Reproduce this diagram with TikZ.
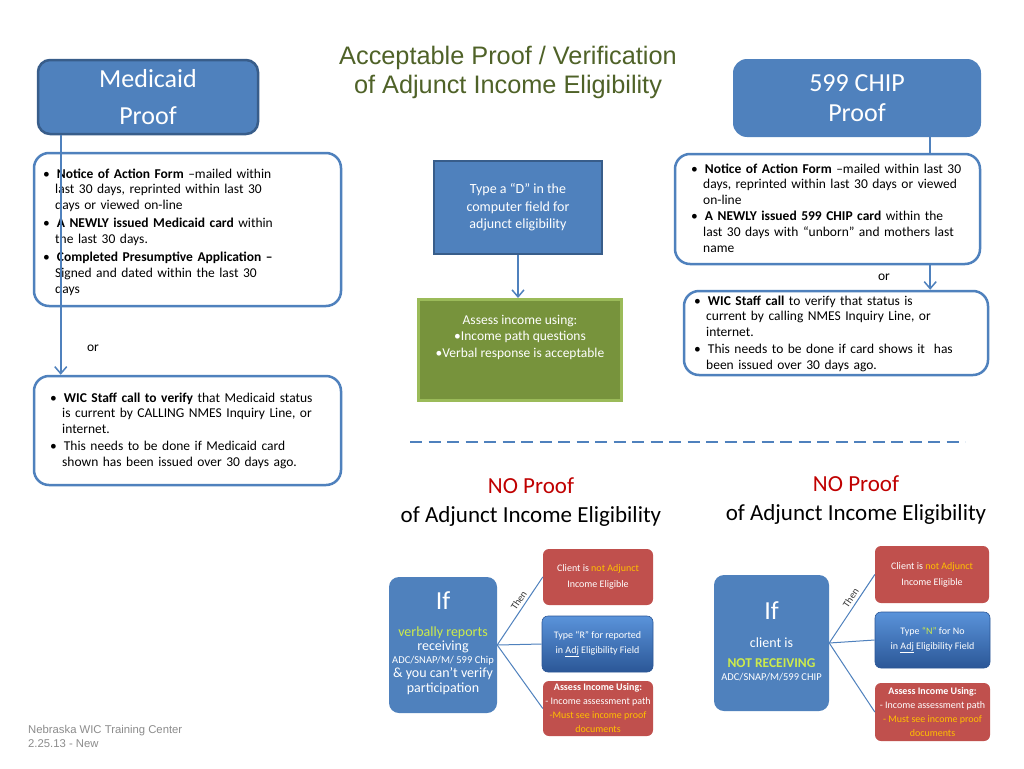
\documentclass[tikz,border=0pt]{standalone}
\usepackage{fontspec}
\setmainfont{Carlito}
\newfontfamily\arialf{Liberation Sans}
\usetikzlibrary{arrows.meta,calc}
\definecolor{ppblue}{HTML}{4F81BD}
\definecolor{ppdark}{HTML}{385D8A}
\definecolor{ppgreen}{HTML}{77933C}
\definecolor{ppgreenb}{HTML}{9BBB59}
\definecolor{ppred}{HTML}{C0504D}
\definecolor{ppyel}{HTML}{FFC000}
\definecolor{pplime}{HTML}{CDEB4B}
\definecolor{titlegreen}{HTML}{4F6228}
\definecolor{nored}{HTML}{C00000}
\definecolor{footgray}{HTML}{8C8C8C}
\definecolor{btop}{HTML}{5A93DA}
\definecolor{bbot}{HTML}{2B5797}
\newenvironment{bltlist}[1]{\begin{list}{\textbullet}{\setlength{\leftmargin}{12pt}\setlength{\labelsep}{7pt}\setlength{\labelwidth}{5pt}\setlength{\itemsep}{#1}\setlength{\parsep}{0pt}\setlength{\topsep}{0pt}\setlength{\partopsep}{0pt}\setlength{\itemindent}{0pt}}}{\end{list}}
\begin{document}
\begin{tikzpicture}[x=1pt,y=-1pt,
  hdr/.style={fill=ppblue, text=white, align=center, font=\fontsize{26}{37}\selectfont},
  boxw/.style={rounded corners=15pt, draw=ppblue, line width=2.5pt, fill=white},
  lst/.style={anchor=north west, text width=#1, inner sep=0pt, align=left, font=\fontsize{13.5}{15.8}\selectfont},
  conn/.style={draw=ppblue, line width=1.5pt},
  arr/.style={-{Straight Barb[length=7pt,width=12pt]}},
  thinln/.style={draw=ppblue, line width=1pt},
  redb/.style={rounded corners=6pt, fill=ppred, text=white, align=center, inner sep=0pt},
  blueb/.style={rounded corners=6pt, top color=btop, bottom color=bbot, draw=bbot, line width=0.6pt, text=white, align=center, inner sep=0pt},
  ifbox/.style={rounded corners=10pt, fill=ppblue, inner sep=0pt},
  iftxt/.style={anchor=base, text=white, inner sep=0pt},
  thenlbl/.style={sloped, above=2pt, pos=0.6, text=black!80, font=\fontsize{10}{10}\selectfont, inner sep=1pt},
  plain/.style={anchor=base, inner sep=0pt}
]
\useasboundingbox (0,0) rectangle (1024,768);
\fill[white] (0,0) rectangle (1024,768);

% Title
\node[plain, font=\arialf\fontsize{25.3}{29}\selectfont, text=titlegreen] (title1) at (508,64) {Acceptable Proof / Verification};
\node[plain, font=\arialf\fontsize{25.3}{29}\selectfont, text=titlegreen] (title2) at (508,93) {of Adjunct Income Eligibility};

% Medicaid side
\node[hdr, rounded corners=12pt, draw=ppdark, line width=2.5pt, minimum width=220pt, minimum height=74pt] (medhead) at (148,97) {Medicaid\\Proof};
\node[boxw, minimum width=307pt, minimum height=153pt] (mlist) at (187.5,229.5) {};
\node[lst=295pt] (mlisttxt) at (43,162) {%
\begin{bltlist}{2.2pt}
\item \strut\textbf{Notice of Action Form} –mailed within\newline last 30 days, reprinted within last 30\newline days or viewed on-line
\item \textbf{A NEWLY issued Medicaid card} within\newline the last 30 days.
\item \textbf{Completed Presumptive Application –}\newline Signed and dated within the last 30\newline days
\end{bltlist}};
\node[boxw, minimum width=307pt, minimum height=109pt] (mwic) at (187.5,430.5) {};
\node[lst=295pt] (mwictxt) at (50,386) {%
\begin{bltlist}{1pt}
\item \strut\textbf{WIC Staff call to verify} that Medicaid status\newline is current by CALLING NMES Inquiry Line, or\newline internet.
\item This needs to be done if Medicaid card\newline shown has been issued over 30 days ago.
\end{bltlist}};
\node[plain, font=\fontsize{13.5}{15.8}\selectfont] (orL) at (93,351) {or};
\draw[conn,arr] ([xshift=24pt]medhead.south west) -- ([xshift=24pt]medhead.south west |- mwic.north);

% 599 CHIP side
\node[hdr, rounded corners=14pt, minimum width=248pt, minimum height=78pt, font=\fontsize{26}{30}\selectfont] (chiphead) at (857,98) {599 CHIP\\Proof};
\node[boxw, minimum width=305pt, minimum height=110pt] (clist) at (827.5,209) {};
\node[lst=288pt] (clisttxt) at (691,157) {%
\begin{bltlist}{0pt}
\item \strut\textbf{Notice of Action Form} –mailed within last 30\newline days, reprinted within last 30 days or viewed\newline on-line
\item \textbf{A NEWLY issued 599 CHIP card} within the\newline last 30 days with “unborn” and mothers last\newline name
\end{bltlist}};
\node[boxw, minimum width=304pt, minimum height=84pt] (cwic) at (836,333) {};
\node[lst=292pt] (cwictxt) at (694,289) {%
\begin{bltlist}{1.5pt}
\item \strut\textbf{WIC Staff call} to verify that status is\newline current by calling NMES Inquiry Line, or\newline internet.
\item This needs to be done if card shows it\ \ has\newline been issued over 30 days ago.
\end{bltlist}};
\node[plain, font=\fontsize{13.5}{15.8}\selectfont] (orR) at (884,280) {or};
\draw[conn] ([xshift=-51pt]chiphead.south east) -- ([xshift=-51pt]chiphead.south east |- clist.north);
\draw[conn,arr] ([xshift=-51pt]chiphead.south east |- clist.south) -- ([xshift=-51pt]chiphead.south east |- cwic.north);

% Middle
\node[fill=ppblue, draw=ppdark, line width=2pt, minimum width=168pt, minimum height=93pt, text=white, align=center, font=\fontsize{14}{17.5}\selectfont] (typed) at (518,207.5) {Type a “D” in the\\computer field for\\adjunct eligibility};
\node[fill=ppgreen, draw=ppgreenb, line width=3pt, minimum width=203pt, minimum height=101pt] (gbox) at (520,350) {};
\node[text=white, align=center, font=\fontsize{13.5}{16.5}\selectfont, inner sep=0pt] (gtext) at (520,337) {Assess income using:\\•Income path questions\\•Verbal response is acceptable};
\draw[conn,arr] (typed.south) -- (typed.south |- gbox.north);

% Dashed separator
\coordinate (dashA) at (410,442);
\coordinate (dashB) at (965,442);
\draw[draw=ppblue, line width=1.5pt, dash pattern=on 12pt off 6.5pt] (dashA) -- (dashB);

% NO Proof headings
\node[plain, font=\fontsize{23}{27}\selectfont, text=nored] (noL1) at (531,493) {NO Proof};
\node[plain, font=\fontsize{23}{27}\selectfont] (noL2) at (531,522) {of Adjunct Income Eligibility};
\node[plain, font=\fontsize{23}{27}\selectfont, text=nored] (noR1) at (856,491) {NO Proof};
\node[plain, font=\fontsize{23}{27}\selectfont] (noR2) at (856,520) {of Adjunct Income Eligibility};

% Bottom left
\node[ifbox, minimum width=108pt, minimum height=136pt] (ifL) at (443,645) {};
\node[iftxt, font=\fontsize{26}{26}\selectfont] (ifLa) at (443,609) {If};
\node[iftxt, font=\fontsize{14}{14}\selectfont, text=pplime] (ifLb) at (443,636) {verbally reports};
\node[iftxt, font=\fontsize{14}{14}\selectfont] (ifLc) at (443,650) {receiving};
\node[iftxt, font=\fontsize{10.5}{10.5}\selectfont] (ifLd) at (443,663) {ADC/SNAP/M/ 599 Chip};
\node[iftxt, font=\fontsize{14}{14}\selectfont] (ifLe) at (443,677) {\& you can’t verify};
\node[iftxt, font=\fontsize{14}{14}\selectfont] (ifLf) at (443,692) {participation};
\node[redb, minimum width=110pt, minimum height=56pt, font=\fontsize{10}{16}\selectfont] (r1L) at (598,577) {Client is \textcolor{ppyel}{not Adjunct}\\Income Eligible};
\node[blueb, minimum width=111pt, minimum height=56pt, font=\fontsize{10}{15}\selectfont] (b2L) at (597.5,644) {Type “R” for reported\\in \underline{Adj} Eligibility Field};
\node[redb, minimum width=110pt, minimum height=55pt, font=\fontsize{10}{14}\selectfont] (r3L) at (598,708.5) {\textbf{Assess Income Using:}\\- Income assessment path\\\textcolor{ppyel}{-Must see income proof}\\\textcolor{ppyel}{documents}};
\draw[thinln] (ifL.east) -- node[thenlbl] (thenL) {Then} (r1L.west);
\draw[thinln] (ifL.east) -- (b2L.west);
\draw[thinln] (ifL.east) -- (r3L.west);

% Bottom right
\node[ifbox, minimum width=115pt, minimum height=136pt] (ifR) at (771.5,643) {};
\node[iftxt, font=\fontsize{26}{26}\selectfont] (ifRa) at (771.5,619) {If};
\node[iftxt, font=\fontsize{14}{14}\selectfont] (ifRb) at (771.5,647) {client is};
\node[iftxt, font=\bfseries\fontsize{13.5}{13.5}\selectfont, text=pplime] (ifRc) at (771.5,667) {NOT RECEIVING};
\node[iftxt, font=\fontsize{10.5}{10.5}\selectfont] (ifRd) at (771.5,680) {ADC/SNAP/M/599 CHIP};
\node[redb, minimum width=114pt, minimum height=57pt, font=\fontsize{10}{16}\selectfont] (r1R) at (932,574.5) {Client is \textcolor{ppyel}{not Adjunct}\\Income Eligible};
\node[blueb, minimum width=115pt, minimum height=56pt, font=\fontsize{10}{15}\selectfont] (b2R) at (932.5,640) {Type \textcolor{pplime}{“N”} for No\\in \underline{Adj} Eligibility Field};
\node[redb, minimum width=115pt, minimum height=58pt, font=\fontsize{10}{14}\selectfont] (r3R) at (932.5,712) {\textbf{Assess Income Using:}\\- Income assessment path\\\textcolor{ppyel}{- Must see income proof}\\\textcolor{ppyel}{documents}};
\draw[thinln] (ifR.east) -- node[thenlbl] (thenR) {Then} (r1R.west);
\draw[thinln] (ifR.east) -- (b2R.west);
\draw[thinln] (ifR.east) -- (r3R.west);

% Footer
\node[anchor=base west, inner sep=0pt, font=\arialf\fontsize{11.3}{14}\selectfont, text=footgray] (foot1) at (28,733) {Nebraska WIC Training Center};
\node[anchor=base west, inner sep=0pt, font=\arialf\fontsize{11.3}{14}\selectfont, text=footgray] (foot2) at (28,747) {2.25.13 - New};
\end{tikzpicture}
\end{document}
